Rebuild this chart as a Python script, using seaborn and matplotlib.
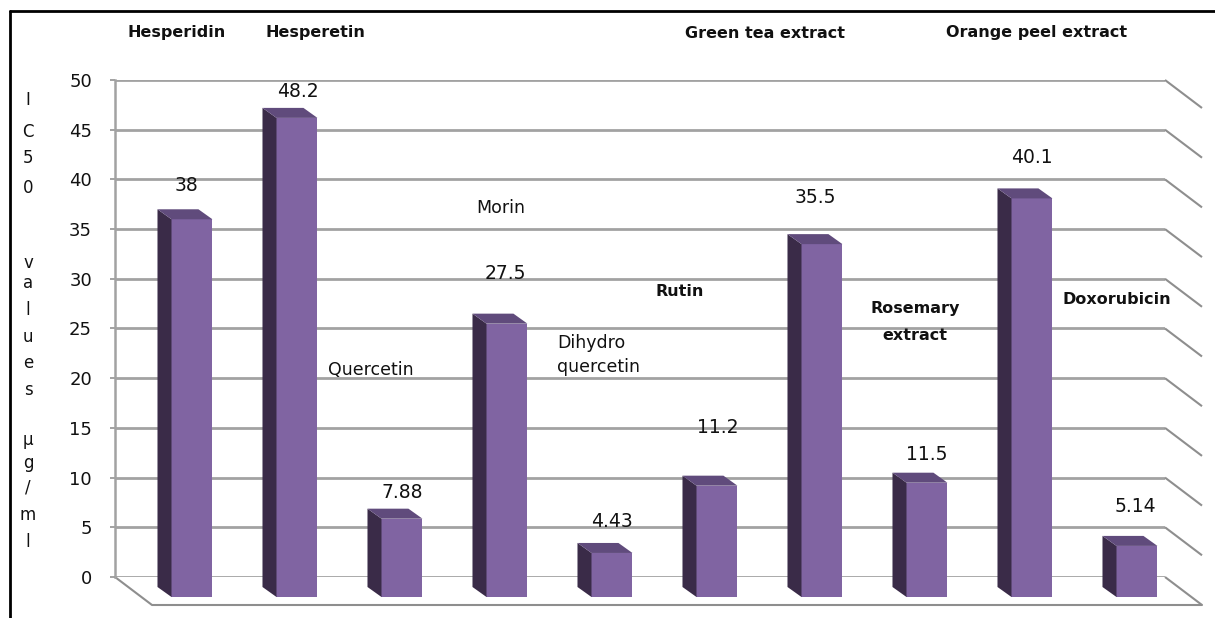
import matplotlib
matplotlib.use("Agg")
import matplotlib.pyplot as plt
from matplotlib.patches import Polygon
from matplotlib.lines import Line2D
import seaborn as sns
import pandas as pd

# ---- data -------------------------------------------------------------
compounds = ["Hesperidin", "Hesperetin", "Quercetin", "Morin", "Dihydro quercetin",
             "Rutin", "Green tea extract", "Rosemary extract", "Orange peel extract",
             "Doxorubicin"]
ic50 = [38, 48.2, 7.88, 27.5, 4.43, 11.2, 35.5, 11.5, 40.1, 5.14]
value_text = ["38", "48.2", "7.88", "27.5", "4.43", "11.2", "35.5", "11.5", "40.1", "5.14"]
y_ticks = [0, 5, 10, 15, 20, 25, 30, 35, 40, 45, 50]
axis_title = "IC50 values µg/ml"

# ---- styling ------------------------------------------------------------
FRONT = "#8064A2"
SIDE = "#3A2B48"
TOP = "#604B7C"
GRID = "#A2A2A2"
DIAG = "#8E8E8E"
TXT = "#111111"

sns.set_theme(style="white")
plt.rcParams["font.family"] = ["DejaVu Sans"]

W, H = 1215, 618
fig = plt.figure(figsize=(W / 100, H / 100), dpi=100)
fig.patch.set_facecolor("white")

# back wall of the chart in pixel geometry
WL, WR, WT, WB = 115, 1165, 80, 577
ax = fig.add_axes([WL / W, (H - WB) / H, (WR - WL) / W, (WB - WT) / H])
ax.set_facecolor("none")

df = pd.DataFrame({"compound": compounds, "ic50": ic50})
sns.barplot(data=df, x="compound", y="ic50", order=compounds, color=FRONT,
            saturation=1, width=0.39, edgecolor="none", linewidth=0,
            ax=ax, zorder=3)

XMIN, XMAX = -0.733, 9.267
ax.set_xlim(XMIN, XMAX)
ax.set_ylim(0, 50)
px_x = (WR - WL) / (XMAX - XMIN)
px_y = (WB - WT) / 50.0

# grid, wall and floor
ax.set_yticks(y_ticks)
ax.set_yticklabels([str(t) for t in y_ticks])
ax.yaxis.grid(True, color=GRID, lw=2.0, zorder=0)
ax.set_axisbelow(True)
ax.set_xticks([])
ax.set_xlabel("")
ax.set_ylabel("")
for s in ("top", "right", "bottom"):
    ax.spines[s].set_visible(False)
ax.spines["left"].set_color(GRID)
ax.spines["left"].set_linewidth(1.8)
ax.tick_params(axis="y", length=3.6, width=1.4, color=GRID, pad=13,
               labelsize=13, labelcolor=TXT, left=True)

depth_x, depth_y = 37 / px_x, 28 / px_y
for t in y_ticks:
    ax.plot([XMAX, XMAX + depth_x], [t, t - depth_y], color=DIAG, lw=1.5,
            clip_on=False, zorder=1, solid_capstyle="butt")
ax.plot([XMIN, XMIN + depth_x, XMAX + depth_x], [0, -depth_y, -depth_y],
        color=DIAG, lw=1.5, clip_on=False, zorder=1)

# 3-D look: push the front faces forward and add side and top faces
drop = 20 / px_y
bdx, bdy = 14 / px_x, 10 / px_y
label_off = [(-6, 34), (1, 26), (0, 26), (-2, 50), (0, 31),
             (1, 58), (-7, 47), (0, 28), (0, 41), (-2, 39)]
for p, txt, (ox, oy) in zip(list(ax.patches), value_text, label_off):
    x0, w, h = p.get_x(), p.get_width(), p.get_height()
    p.set_y(-drop)
    p.set_clip_on(False)
    b = -drop
    side = Polygon([(x0, b), (x0, b + h), (x0 - bdx, b + h + bdy), (x0 - bdx, b + bdy)],
                   closed=True, facecolor=SIDE, edgecolor="none", zorder=3, clip_on=False)
    top = Polygon([(x0, b + h), (x0 + w, b + h), (x0 + w - bdx, b + h + bdy),
                   (x0 - bdx, b + h + bdy)],
                  closed=True, facecolor=TOP, edgecolor="none", zorder=3, clip_on=False)
    ax.add_patch(side)
    ax.add_patch(top)
    ax.annotate(txt, xy=(x0 + w / 2, b + h), xytext=(ox, oy), textcoords="offset pixels",
                ha="center", va="center", fontsize=13.5, color=TXT, zorder=5,
                annotation_clip=False)

# category names floating over the plot
def put(text, x, y, bold, ha="center", ls=1.2):
    fig.text(x / W, 1 - y / H, text, ha=ha, va="center", multialignment=ha,
             fontsize=11.5 if bold else 12.5, fontweight="bold" if bold else "normal",
             color=TXT, linespacing=ls)

put(compounds[0], 177, 33, True)
put(compounds[1], 315, 33, True)
put(compounds[2], 371, 370, False)
put(compounds[3], 501, 208, False)
put("Dihydro\nquercetin", 557, 355, False, ha="left", ls=1.5)
put(compounds[5], 680, 292, True)
put(compounds[6], 765, 33, True)
put("Rosemary\nextract", 915, 322, True, ls=2.0)
put(compounds[8], 1037, 33, True)
put(compounds[9], 1117, 300, True)

# vertical, letter-stacked axis title
letter_y = [100, 132, 158, 188, 263, 283, 310, 337, 363, 390, 440, 463, 488, 515, 542]
for ch, yy in zip(axis_title.replace(" ", ""), letter_y):
    fig.text(28 / W, 1 - yy / H, ch, ha="center", va="center", fontsize=12, color=TXT)

# outer frame
fig.add_artist(Line2D([10 / W, 1], [1 - 11 / H, 1 - 11 / H], transform=fig.transFigure,
                      color="black", lw=2))
fig.add_artist(Line2D([10 / W, 10 / W], [0, 1 - 11 / H], transform=fig.transFigure,
                      color="black", lw=2))

fig.savefig("out.png", dpi=100, facecolor="white")
